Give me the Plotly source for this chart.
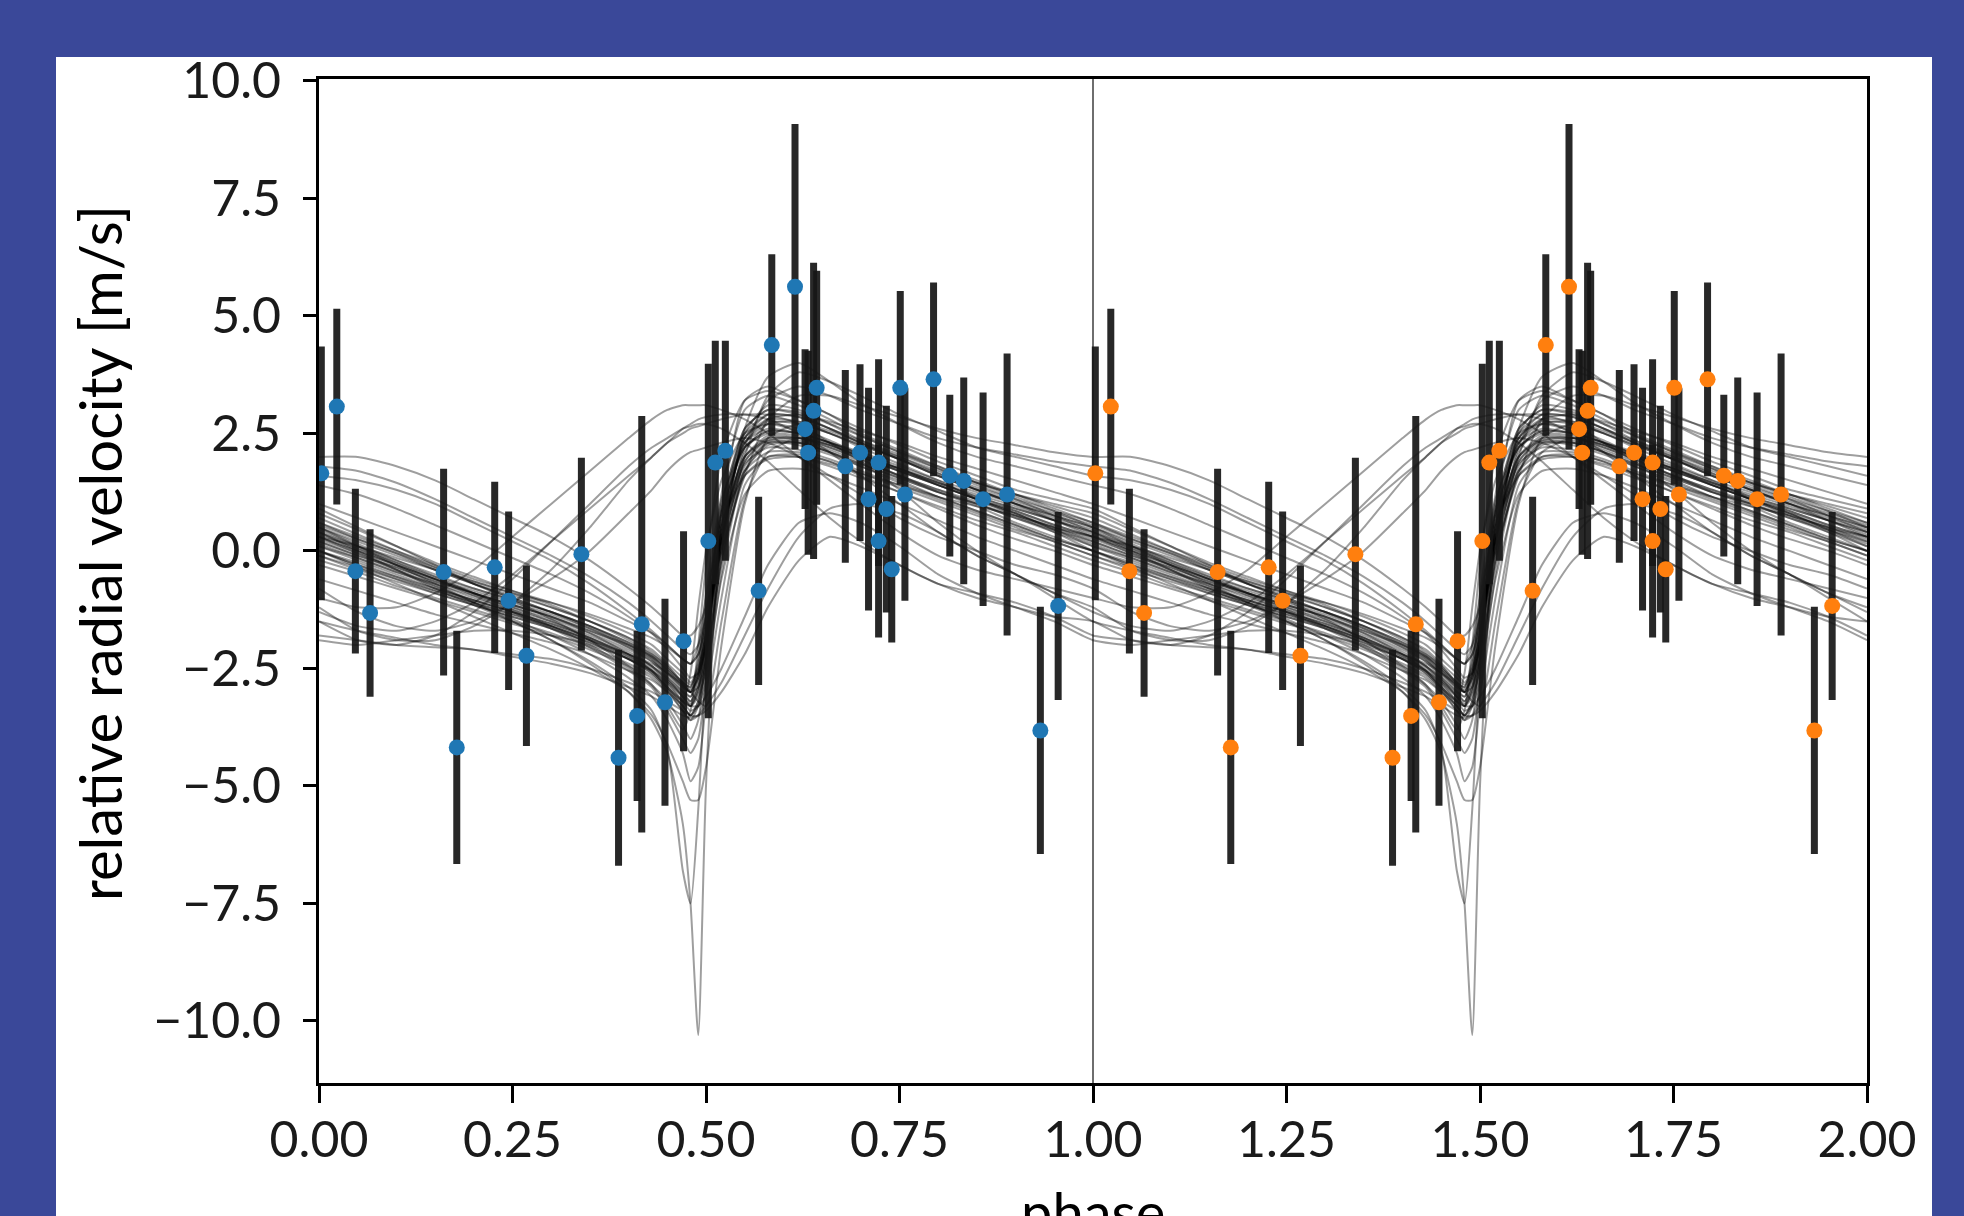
import plotly.graph_objects as go

# ---------------- data ----------------
phase = [0.003, 0.023, 0.047, 0.066, 0.161, 0.178, 0.227, 0.245, 0.268, 0.339,
         0.387, 0.411, 0.417, 0.447, 0.471, 0.503, 0.512, 0.525, 0.568, 0.585,
         0.615, 0.628, 0.632, 0.639, 0.643, 0.680, 0.699, 0.710, 0.723, 0.723,
         0.733, 0.740, 0.751, 0.757, 0.794, 0.815, 0.833, 0.858, 0.889, 0.932,
         0.955]
rv = [1.65, 3.07, -0.43, -1.32, -0.45, -4.18, -0.35, -1.06, -2.23, -0.07,
      -4.40, -3.51, -1.56, -3.22, -1.92, 0.21, 1.88, 2.13, -0.85, 4.38,
      5.62, 2.59, 2.09, 2.98, 3.47, 1.80, 2.09, 1.10, 1.88, 0.21,
      0.89, -0.39, 3.47, 1.20, 3.65, 1.60, 1.49, 1.10, 1.20, -3.82,
      -1.17]
rv_err = [2.70, 2.08, 1.75, 1.78, 2.20, 2.48, 1.82, 1.90, 1.92, 2.05,
          2.30, 1.81, 4.43, 2.20, 2.34, 3.77, 2.59, 2.34, 2.00, 1.93,
          3.46, 1.70, 2.17, 3.15, 2.49, 2.05, 1.88, 2.37, 2.20, 2.05,
          2.20, 1.56, 2.06, 2.26, 2.06, 1.72, 2.20, 2.27, 3.00, 2.63,
          2.00]

model_phase = [0.00, 0.05, 0.10, 0.15, 0.20, 0.25, 0.30, 0.35, 0.40, 0.43, 0.45, 0.47, 0.48,
               0.49, 0.50, 0.52, 0.55, 0.58, 0.62, 0.66, 0.70, 0.75, 0.80, 0.85, 0.90, 0.95, 1.00]
model_curves = [
    [0.2, -0.1, -0.4, -0.7, -0.95, -1.2, -1.45, -1.75, -2.1, -2.35, -2.6, -2.95, -3.1, -2.6, -1.6, 0.5, 2.0, 2.4, 2.35, 2.15, 1.9, 1.6, 1.3, 1.05, 0.8, 0.5, 0.2],
    [0.6, 0.3, 0.0, -0.3, -0.6, -0.85, -1.1, -1.4, -1.75, -2.0, -2.3, -2.6, -2.8, -2.5, -1.8, 0.2, 2.1, 2.7, 2.75, 2.55, 2.3, 2.0, 1.7, 1.45, 1.2, 0.9, 0.6],
    [-0.2, -0.45, -0.75, -1.0, -1.25, -1.5, -1.75, -2.05, -2.4, -2.65, -2.95, -3.3, -3.5, -3.2, -2.4, -0.2, 1.6, 2.0, 2.0, 1.8, 1.55, 1.25, 0.95, 0.65, 0.4, 0.1, -0.2],
    [0.5, 0.15, -0.2, -0.55, -0.9, -1.25, -1.6, -2.0, -2.5, -2.85, -3.2, -3.7, -4.0, -3.6, -2.2, 0.6, 2.6, 3.0, 2.9, 2.6, 2.3, 1.95, 1.6, 1.3, 1.0, 0.75, 0.5],
    [0.3, 0.1, -0.15, -0.4, -0.65, -0.9, -1.1, -1.35, -1.65, -1.85, -2.05, -2.3, -2.4, -2.0, -1.0, 0.6, 1.6, 1.95, 2.0, 1.85, 1.65, 1.4, 1.15, 0.95, 0.75, 0.5, 0.3],
    [0.4, 0.05, -0.3, -0.6, -0.9, -1.15, -1.4, -1.75, -2.2, -2.55, -2.9, -3.2, -2.6, -1.2, 0.0, 1.5, 2.5, 2.7, 2.55, 2.3, 2.05, 1.75, 1.45, 1.15, 0.9, 0.65, 0.4],
    [0.1, -0.2, -0.5, -0.8, -1.05, -1.3, -1.55, -1.85, -2.2, -2.4, -2.6, -2.85, -3.0, -3.2, -3.3, -1.5, 1.1, 2.1, 2.4, 2.25, 2.0, 1.7, 1.4, 1.1, 0.8, 0.45, 0.1],
    [1.0, 0.7, 0.4, 0.1, -0.2, -0.5, -0.8, -1.1, -1.5, -1.75, -2.0, -2.3, -2.4, -2.2, -1.4, 0.8, 2.3, 2.8, 2.9, 2.75, 2.55, 2.3, 2.0, 1.75, 1.5, 1.25, 1.0],
    [-0.6, -0.85, -1.1, -1.35, -1.55, -1.75, -1.95, -2.2, -2.55, -2.75, -3.0, -3.3, -3.5, -3.3, -2.6, -0.6, 1.2, 1.7, 1.75, 1.6, 1.35, 1.0, 0.65, 0.3, 0.0, -0.3, -0.6],
    [0.0, -0.3, -0.6, -0.9, -1.15, -1.4, -1.65, -1.95, -2.3, -2.55, -2.8, -3.2, -3.4, -3.3, -2.8, -0.5, 1.7, 2.3, 2.3, 2.1, 1.8, 1.5, 1.15, 0.85, 0.55, 0.25, 0.0],
    [0.8, 0.45, 0.1, -0.25, -0.55, -0.85, -1.15, -1.5, -1.9, -2.2, -2.5, -2.85, -3.0, -2.5, -1.2, 1.0, 2.5, 2.9, 2.85, 2.6, 2.35, 2.05, 1.75, 1.45, 1.2, 1.0, 0.8],
    [0.3, 0.0, -0.3, -0.6, -0.85, -1.1, -1.35, -1.65, -2.0, -2.25, -2.5, -2.8, -2.9, -2.3, -0.9, 1.1, 2.2, 2.5, 2.45, 2.25, 2.0, 1.7, 1.4, 1.1, 0.85, 0.55, 0.3],
    [0.3, -0.05, -0.4, -0.75, -1.1, -1.45, -1.8, -2.2, -2.7, -3.1, -3.6, -4.3, -4.9, -4.6, -3.2, 0.0, 2.5, 3.1, 3.0, 2.7, 2.35, 2.0, 1.65, 1.3, 1.0, 0.65, 0.3],
    [0.4, 0.0, -0.4, -0.8, -1.15, -1.5, -1.9, -2.35, -2.9, -3.4, -4.2, -6.8, -7.5, -5.5, -2.5, 1.2, 3.0, 3.3, 3.1, 2.8, 2.45, 2.1, 1.75, 1.4, 1.1, 0.75, 0.4],
    [0.5, 0.1, -0.3, -0.7, -1.1, -1.5, -1.9, -2.4, -3.0, -3.6, -4.3, -5.8, -7.5, -10.3, -5.0, 0.8, 3.2, 3.5, 3.2, 2.9, 2.5, 2.15, 1.8, 1.45, 1.15, 0.85, 0.5],
    [0.0, -0.35, -0.7, -1.05, -1.4, -1.75, -2.1, -2.5, -3.0, -3.5, -4.1, -4.9, -5.3, -5.3, -4.6, -2.0, 1.0, 2.4, 2.7, 2.5, 2.2, 1.85, 1.5, 1.1, 0.75, 0.4, 0.0],
    [0.35, 0.05, -0.25, -0.55, -0.8, -1.05, -1.3, -1.6, -1.95, -2.2, -2.45, -2.8, -2.95, -2.7, -2.0, 0.2, 1.9, 2.35, 2.4, 2.25, 2.0, 1.75, 1.45, 1.2, 0.95, 0.65, 0.35],
    [-0.1, -0.4, -0.65, -0.9, -1.15, -1.4, -1.65, -1.95, -2.3, -2.55, -2.85, -3.2, -3.3, -2.9, -1.9, 0.3, 1.85, 2.2, 2.15, 1.95, 1.7, 1.4, 1.1, 0.8, 0.5, 0.2, -0.1],
    [0.15, -0.15, -0.45, -0.75, -1.05, -1.3, -1.6, -1.9, -2.3, -2.6, -2.95, -3.4, -3.6, -3.3, -2.3, 0.4, 2.3, 2.7, 2.6, 2.35, 2.05, 1.75, 1.4, 1.1, 0.8, 0.45, 0.15],
    [0.5, 0.2, -0.1, -0.4, -0.7, -0.95, -1.2, -1.5, -1.85, -2.1, -2.4, -2.7, -2.85, -2.6, -1.7, 0.7, 2.2, 2.55, 2.5, 2.3, 2.1, 1.8, 1.5, 1.25, 1.0, 0.75, 0.5],
    [0.0, -0.25, -0.55, -0.85, -1.1, -1.35, -1.6, -1.9, -2.25, -2.5, -2.8, -3.1, -3.25, -3.0, -2.2, 0.0, 1.9, 2.4, 2.4, 2.2, 1.95, 1.6, 1.25, 0.95, 0.6, 0.3, 0.0],
    [0.7, 0.35, 0.0, -0.35, -0.7, -1.0, -1.3, -1.65, -2.05, -2.35, -2.7, -3.1, -3.3, -3.0, -1.9, 0.9, 2.6, 3.0, 2.95, 2.7, 2.45, 2.1, 1.8, 1.5, 1.2, 0.95, 0.7],
    [0.25, -0.05, -0.35, -0.65, -0.9, -1.15, -1.4, -1.7, -2.05, -2.3, -2.6, -2.9, -3.0, -2.7, -1.8, 0.4, 2.0, 2.35, 2.3, 2.1, 1.85, 1.55, 1.25, 1.0, 0.75, 0.5, 0.25],
    [-0.3, -0.55, -0.8, -1.05, -1.3, -1.55, -1.8, -2.1, -2.45, -2.7, -3.0, -3.4, -3.6, -3.5, -3.0, -1.0, 1.4, 2.0, 2.05, 1.9, 1.6, 1.25, 0.9, 0.55, 0.25, 0.0, -0.3],
    [0.9, 0.5, 0.1, -0.3, -0.7, -1.05, -1.45, -1.9, -2.45, -2.85, -3.3, -3.8, -3.4, -2.0, -0.3, 2.0, 3.2, 3.4, 3.2, 2.9, 2.6, 2.25, 1.9, 1.6, 1.3, 1.1, 0.9],
    [0.45, 0.1, -0.25, -0.6, -0.95, -1.3, -1.65, -2.05, -2.55, -2.9, -3.4, -4.0, -4.3, -4.0, -2.8, 0.2, 2.4, 2.9, 2.85, 2.6, 2.3, 1.95, 1.6, 1.3, 1.0, 0.7, 0.45],
    [0.1, -0.15, -0.45, -0.7, -1.0, -1.25, -1.5, -1.8, -2.15, -2.45, -2.75, -3.05, -3.2, -2.8, -1.9, 0.3, 2.0, 2.45, 2.4, 2.2, 1.95, 1.6, 1.3, 1.0, 0.7, 0.4, 0.1],
    [0.4, 0.1, -0.2, -0.5, -0.8, -1.05, -1.3, -1.6, -1.95, -2.25, -2.55, -2.9, -3.0, -2.6, -1.5, 0.8, 2.2, 2.55, 2.5, 2.3, 2.05, 1.75, 1.45, 1.15, 0.9, 0.65, 0.4],
    [0.2, -0.1, -0.35, -0.65, -0.9, -1.15, -1.4, -1.7, -2.0, -2.25, -2.55, -2.85, -3.0, -2.9, -2.3, -0.3, 1.7, 2.25, 2.3, 2.1, 1.85, 1.55, 1.25, 1.0, 0.7, 0.45, 0.2],
    [0.6, 0.25, -0.05, -0.4, -0.7, -1.0, -1.3, -1.6, -2.0, -2.3, -2.65, -3.0, -3.2, -2.9, -2.0, 0.5, 2.4, 2.8, 2.75, 2.5, 2.25, 1.95, 1.65, 1.35, 1.1, 0.85, 0.6],
    [-0.1, -0.35, -0.6, -0.85, -1.1, -1.35, -1.6, -1.9, -2.2, -2.45, -2.7, -3.0, -3.1, -2.7, -1.7, 0.2, 1.7, 2.1, 2.1, 1.9, 1.65, 1.35, 1.05, 0.75, 0.45, 0.2, -0.1],
    [0.3, 0.0, -0.3, -0.6, -0.9, -1.2, -1.5, -1.85, -2.25, -2.55, -2.9, -3.3, -3.5, -3.2, -2.1, 0.5, 2.3, 2.6, 2.5, 2.3, 2.0, 1.7, 1.4, 1.1, 0.85, 0.55, 0.3],
    [0.0, -0.3, -0.55, -0.8, -1.05, -1.3, -1.55, -1.85, -2.2, -2.45, -2.75, -3.1, -3.3, -3.1, -2.5, -0.2, 1.8, 2.3, 2.25, 2.05, 1.8, 1.45, 1.15, 0.85, 0.55, 0.25, 0.0],
    [0.55, 0.25, -0.05, -0.35, -0.65, -0.9, -1.2, -1.5, -1.85, -2.15, -2.45, -2.8, -2.9, -2.4, -1.3, 0.9, 2.4, 2.75, 2.7, 2.5, 2.25, 1.95, 1.6, 1.3, 1.05, 0.8, 0.55],
    [2.0, 2.0, 1.8, 1.5, 1.1, 0.7, 0.3, -0.2, -0.8, -1.2, -1.5, -1.8, -1.8, -1.6, -1.2, 0.0, 1.6, 2.8, 3.3, 3.3, 3.1, 2.85, 2.6, 2.4, 2.25, 2.1, 2.0],
    [1.6, 1.5, 1.3, 1.0, 0.6, 0.2, -0.2, -0.7, -1.3, -1.7, -2.0, -2.3, -2.4, -2.2, -1.6, 0.0, 2.0, 3.3, 3.8, 3.6, 3.3, 2.9, 2.55, 2.2, 2.0, 1.8, 1.6],
    [1.4, 1.2, 0.9, 0.55, 0.2, -0.15, -0.5, -0.9, -1.4, -1.75, -2.1, -2.5, -2.7, -2.6, -2.0, 0.2, 2.6, 3.7, 4.0, 3.6, 3.15, 2.7, 2.3, 2.0, 1.8, 1.6, 1.4],
    [1.8, 1.7, 1.45, 1.1, 0.7, 0.3, -0.1, -0.55, -1.1, -1.5, -1.8, -2.1, -2.2, -2.0, -1.4, 0.3, 2.2, 3.2, 3.5, 3.3, 3.0, 2.7, 2.4, 2.2, 2.05, 1.9, 1.8],
    [-1.2, -1.7, -1.9, -1.9, -1.6, -1.1, -0.4, 0.5, 1.5, 2.0, 2.3, 2.6, 2.7, 2.8, 2.85, 2.9, 2.9, 2.8, 2.5, 2.1, 1.6, 1.0, 0.4, -0.1, -0.5, -0.9, -1.2],
    [-1.5, -1.9, -2.0, -1.8, -1.3, -0.6, 0.2, 1.0, 1.8, 2.2, 2.4, 2.6, 2.65, 2.7, 2.7, 2.6, 2.3, 1.9, 1.3, 0.7, 0.2, -0.3, -0.7, -1.0, -1.2, -1.4, -1.5],
    [-0.8, -1.3, -1.6, -1.7, -1.5, -1.1, -0.6, 0.0, 0.8, 1.3, 1.7, 2.0, 2.1, 2.15, 2.2, 2.3, 2.4, 2.3, 2.0, 1.6, 1.2, 0.7, 0.3, 0.0, -0.3, -0.5, -0.8],
    [-1.0, -1.2, -1.2, -0.9, -0.4, 0.3, 1.0, 1.7, 2.4, 2.8, 3.0, 3.1, 3.1, 3.1, 3.1, 3.0, 2.8, 2.5, 2.0, 1.5, 1.0, 0.4, -0.1, -0.4, -0.6, -0.8, -1.0],
    [-1.3, -1.6, -1.7, -1.5, -1.1, -0.5, 0.2, 0.9, 1.6, 2.0, 2.3, 2.5, 2.6, 2.65, 2.7, 2.8, 2.9, 2.9, 2.7, 2.3, 1.9, 1.3, 0.6, 0.0, -0.5, -0.9, -1.3],
    [-1.5, -1.7, -1.85, -2.0, -2.1, -2.25, -2.4, -2.6, -2.9, -3.1, -3.3, -3.5, -3.55, -3.5, -3.3, -2.8, -1.8, -0.8, 0.3, 0.9, 1.0, 0.8, 0.4, -0.1, -0.5, -1.0, -1.5],
    [-1.8, -1.9, -2.0, -2.05, -2.1, -2.2, -2.3, -2.5, -2.8, -3.0, -3.2, -3.4, -3.5, -3.5, -3.4, -3.0, -2.2, -1.2, -0.2, 0.3, 0.1, -0.3, -0.7, -0.9, -1.1, -1.4, -1.8],
    [-1.9, -2.0, -1.9, -1.8, -1.7, -1.7, -1.8, -2.0, -2.3, -2.6, -2.9, -3.2, -3.3, -3.3, -3.1, -2.5, -1.4, -0.3, 0.6, 0.8, 0.6, 0.1, -0.5, -0.9, -1.2, -1.5, -1.9],
]

x_ticks = [0.0, 0.25, 0.5, 0.75, 1.0, 1.25, 1.5, 1.75, 2.0]
x_ticklabels = ["0.00", "0.25", "0.50", "0.75", "1.00", "1.25", "1.50", "1.75", "2.00"]
y_ticks = [-10.0, -7.5, -5.0, -2.5, 0.0, 2.5, 5.0, 7.5, 10.0]
y_ticklabels = ["\u221210.0", "\u22127.5", "\u22125.0", "\u22122.5", "0.0", "2.5", "5.0", "7.5", "10.0"]

# ---------------- layout geometry (pixels) ----------------
W, H = 1964, 1216
ML, MR, MT, MB = 319, 97, 79, 133
PW, PH = W - ML - MR, H - MT - MB


def px_x(px):
    return (px - ML) / PW


def px_y(py):
    return (H - MB - py) / PH


BG = "#3A4899"
FONT = "Lato, 'Open Sans', sans-serif"

fig = go.Figure()

# model curves, repeated over two phases
for curve in model_curves:
    xs = list(model_phase) + [p + 1 for p in model_phase[1:]]
    ys = list(curve) + list(curve[1:])
    fig.add_trace(go.Scatter(
        x=xs, y=ys, mode="lines",
        line=dict(color="rgba(0,0,0,0.38)", width=2, shape="spline", smoothing=0.6),
        hoverinfo="skip", showlegend=False))

errbar = dict(type="data", array=rv_err, visible=True,
              color="rgba(22,22,22,0.92)", thickness=7, width=0)

fig.add_trace(go.Scatter(
    x=phase, y=rv, mode="markers",
    marker=dict(color="#1f77b4", size=16, line=dict(width=0)),
    error_y=errbar, showlegend=False))
fig.add_trace(go.Scatter(
    x=[p + 1 for p in phase], y=rv, mode="markers",
    marker=dict(color="#ff7f0e", size=16, line=dict(width=0)),
    error_y=errbar, showlegend=False))

shapes = [
    dict(type="rect", xref="paper", yref="paper",
         x0=px_x(56), x1=px_x(1932), y0=px_y(1230), y1=px_y(57),
         fillcolor="white", line=dict(width=0), layer="below"),
    dict(type="line", xref="x", yref="paper", x0=1.0, x1=1.0, y0=0, y1=1,
         line=dict(color="#6e6e6e", width=2), layer="below"),
]

annotations = [
    dict(text="phase", xref="paper", yref="paper", x=0.5, y=px_y(1176),
         xanchor="center", yanchor="top", showarrow=False,
         font=dict(family=FONT, size=56, color="black")),
    dict(text="relative radial velocity [m/s]", xref="paper", yref="paper",
         x=px_x(99), y=px_y(553), xanchor="center", yanchor="middle",
         textangle=-90, showarrow=False,
         font=dict(family=FONT, size=58, color="black")),
]

axis_common = dict(showline=True, linecolor="black", linewidth=3, mirror=True,
                   ticks="outside", tickcolor="black", tickwidth=3,
                   showgrid=False, zeroline=False,
                   tickfont=dict(family=FONT, size=50, color="#1a1a1a"))

fig.update_layout(
    width=W, height=H,
    margin=dict(l=ML, r=MR, t=MT, b=MB, autoexpand=False),
    paper_bgcolor=BG, plot_bgcolor="white",
    showlegend=False,
    shapes=shapes, annotations=annotations,
    xaxis=dict(range=[0, 2], tickvals=x_ticks, ticktext=x_ticklabels,
               ticklen=17, ticklabelstandoff=-6, **axis_common),
    yaxis=dict(range=[-11.32, 10.04], tickvals=y_ticks, ticktext=y_ticklabels,
               ticklen=13, ticklabelstandoff=12, **axis_common),
)

fig.write_html(
    "out.html",
    config={"displayModeBar": False},
    post_script="document.body.style.margin='0';document.body.style.background='" + BG + "';",
)
